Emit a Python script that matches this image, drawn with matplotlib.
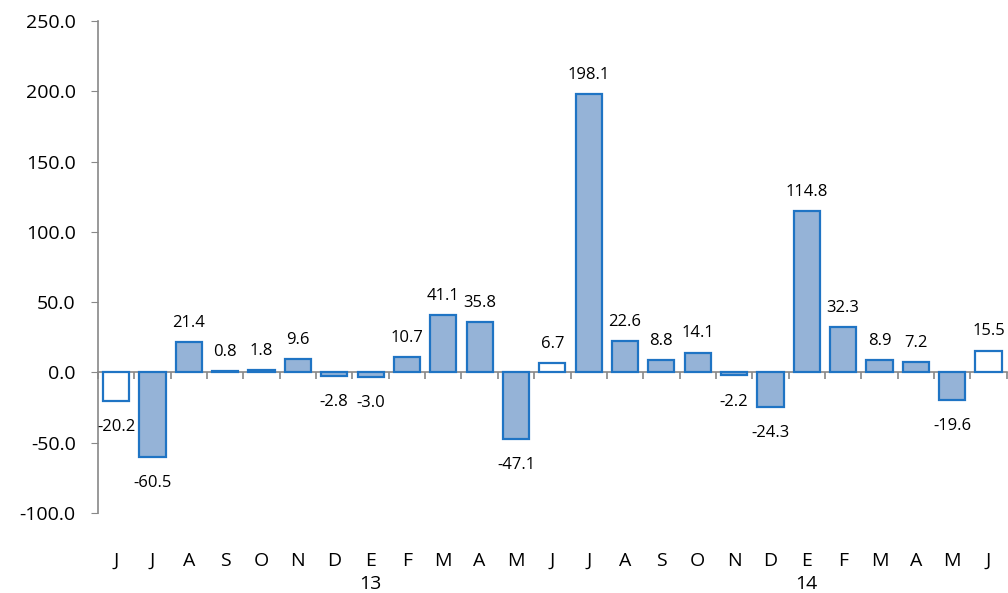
import matplotlib
matplotlib.use("Agg")
import matplotlib.pyplot as plt

months = ["J", "J", "A", "S", "O", "N", "D", "E", "F", "M", "A", "M", "J",
          "J", "A", "S", "O", "N", "D", "E", "F", "M", "A", "M", "J"]
values = [-20.2, -60.5, 21.4, 0.8, 1.8, 9.6, -2.8, -3.0, 10.7, 41.1, 35.8, -47.1, 6.7,
          198.1, 22.6, 8.8, 14.1, -2.2, -24.3, 114.8, 32.3, 8.9, 7.2, -19.6, 15.5]
year_labels = ["13", "14"]
year_pos = [7, 19]
hollow = [0, 12, 24]  # June bars drawn without fill

plt.rcParams["font.family"] = ["Open Sans", "DejaVu Sans"]

EDGE = "#1F74C4"
FILL = "#95B3D7"
GRAY = "#888888"

fig = plt.figure(figsize=(10.08, 5.93), dpi=100)
ax = fig.add_axes([0.0972, 0.135, 0.9015, 0.8296])

x = list(range(len(values)))
colors = ["white" if i in hollow else FILL for i in x]
bars = ax.bar(x, values, width=0.72, color=colors, edgecolor=EDGE, linewidth=1.6, zorder=3)

for b, v in zip(bars, values):
    if v >= 0:
        ax.annotate(f"{v:.1f}", (b.get_x() + b.get_width() / 2, v), xytext=(0, 8),
                    textcoords="offset points", ha="center", va="bottom", fontsize=12)
    else:
        ax.annotate(f"{v:.1f}", (b.get_x() + b.get_width() / 2, v), xytext=(0, -13),
                    textcoords="offset points", ha="center", va="top", fontsize=12)

ymin, ymax = -100, 250
ax.set_ylim(ymin, ymax)
ax.set_xlim(-0.5, len(values) - 0.5)
ax.set_yticks(range(-100, 251, 50))
ax.set_yticklabels([f"{t:.1f}" for t in range(-100, 251, 50)])
ax.tick_params(axis="y", direction="out", length=5, color=GRAY, labelsize=14, pad=11)

ax.set_xticks(x)
ax.set_xticklabels(months)
ax.tick_params(axis="x", length=0, labelsize=14, pad=28)

for s in ["top", "right", "bottom"]:
    ax.spines[s].set_visible(False)
ax.spines["left"].set_color(GRAY)
ax.spines["left"].set_linewidth(1.2)

# zero line with category boundary ticks
zero_loc = (0 - ymin) / (ymax - ymin)
sec = ax.secondary_xaxis(zero_loc)
sec.set_xticks([i - 0.5 for i in range(len(values) + 1)])
sec.set_xticklabels([])
sec.tick_params(direction="out", length=5, color=GRAY, width=1.2)
sec.spines["bottom"].set_color(GRAY)
sec.spines["bottom"].set_linewidth(1.2)

for lbl, p in zip(year_labels, year_pos):
    ax.annotate(lbl, (p, 0), xycoords=("data", "axes fraction"), xytext=(0, -45),
                textcoords="offset points", ha="center", va="top", fontsize=14)

fig.savefig("out.png", dpi=100)
